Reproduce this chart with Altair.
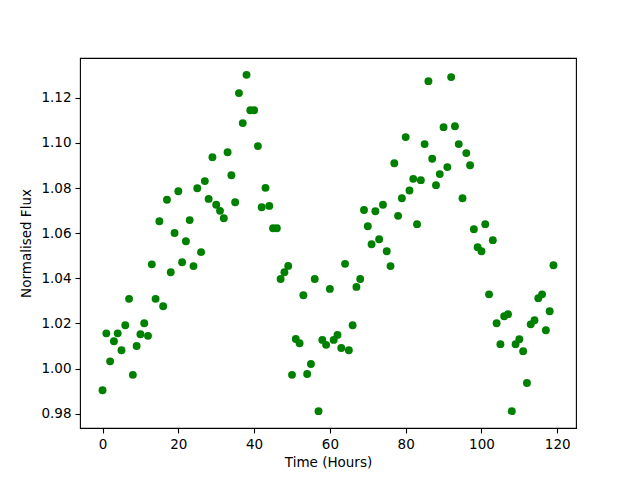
import altair as alt
import pandas as pd

hours = list(range(120))
flux = [
    0.9904, 1.0156, 1.0032, 1.0121, 1.0156, 1.0081, 1.0192, 1.0309, 0.9972, 1.0100,
    1.0152, 1.0201, 1.0145, 1.0462, 1.0309, 1.0653, 1.0276, 1.0748, 1.0427, 1.0601,
    1.0786, 1.0471, 1.0564, 1.0658, 1.0454, 1.0799, 1.0516, 1.0831, 1.0752, 1.0937,
    1.0726, 1.0699, 1.0666, 1.0959, 1.0857, 1.0737, 1.1221, 1.1088, 1.1302, 1.1145,
    1.1145, 1.0986, 1.0715, 1.0801, 1.0721, 1.0622, 1.0622, 1.0397, 1.0427, 1.0455,
    0.9972, 1.0131, 1.0112, 1.0325, 0.9976, 1.0020, 1.0397, 0.9811, 1.0127, 1.0105,
    1.0353, 1.0127, 1.0149, 1.0091, 1.0464, 1.0081, 1.0192, 1.0362, 1.0397, 1.0703,
    1.0631, 1.0551, 1.0697, 1.0573, 1.0726, 1.0520, 1.0454, 1.0910, 1.0677, 1.0755,
    1.1026, 1.0789, 1.0841, 1.0640, 1.0835, 1.0995, 1.1274, 1.0930, 1.0813, 1.0862,
    1.1070, 1.0893, 1.1292, 1.1074, 1.0995, 1.0755, 1.0955, 1.0901, 1.0618, 1.0538,
    1.0520, 1.0640, 1.0329, 1.0569, 1.0201, 1.0108, 1.0232, 1.0241, 0.9811, 1.0108,
    1.0130, 1.0077, 0.9936, 1.0196, 1.0214, 1.0312, 1.0329, 1.0170, 1.0254, 1.0458,
]
x_ticks = [0, 20, 40, 60, 80, 100, 120]
y_ticks = [0.98, 1.00, 1.02, 1.04, 1.06, 1.08, 1.10, 1.12]

df = pd.DataFrame({"Time": hours, "Flux": flux})

xmin, xmax = min(hours), max(hours)
xm = 0.05 * (xmax - xmin)
ymin, ymax = min(flux), max(flux)
ym = 0.05 * (ymax - ymin)

font = "DejaVu Sans"
axis_common = dict(
    grid=False,
    domain=False,
    tickColor="black",
    tickSize=5,
    tickWidth=1.1,
    labelFont=font,
    labelFontSize=13.5,
    labelColor="black",
    labelPadding=4,
    titleFont=font,
    titleFontSize=13.5,
    titleFontWeight="normal",
    titleColor="black",
)

chart = (
    alt.Chart(df)
    .mark_circle(color="#008000", opacity=1, size=62)
    .encode(
        x=alt.X(
            "Time:Q",
            scale=alt.Scale(domain=[xmin - xm, xmax + xm], nice=False, zero=False),
            axis=alt.Axis(title="Time (Hours)", values=x_ticks, titlePadding=5, **axis_common),
        ),
        y=alt.Y(
            "Flux:Q",
            scale=alt.Scale(domain=[ymin - ym, ymax + ym], nice=False, zero=False),
            axis=alt.Axis(title="Normalised Flux", values=y_ticks, format=".2f", titlePadding=7, **axis_common),
        ),
    )
    .properties(
        width=496,
        height=370,
        padding={"left": 72, "top": 50, "right": 56, "bottom": 45},
        autosize=alt.AutoSizeParams(type="none"),
        background="white",
    )
    .configure_view(stroke="black", strokeWidth=1.1)
)

chart.save("out.html", embed_options={"renderer": "svg", "actions": False})
